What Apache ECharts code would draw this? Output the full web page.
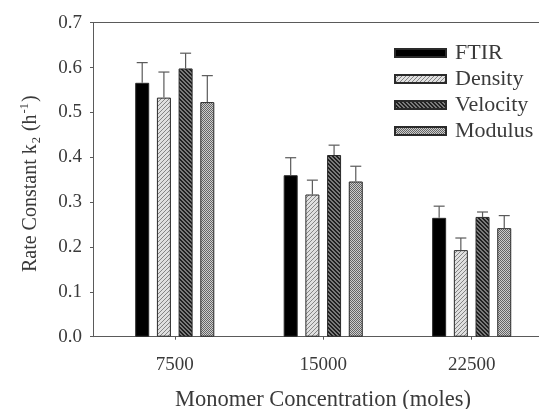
<!DOCTYPE html>
<html>
<head>
<meta charset="utf-8">
<script src="https://cdn.jsdelivr.net/npm/echarts@6/dist/echarts.min.js"></script>
<style>html,body{margin:0;padding:0;background:#fff;}#c{width:539px;height:409px;}</style>
</head>
<body>
<div id="c"></div>
<script>
// ---- data ----
const categories = [7500, 15000, 22500];
const seriesNames = ['FTIR', 'Density', 'Velocity', 'Modulus'];
const ftir = [0.566, 0.360, 0.265];
const ftirErr = [0.045, 0.039, 0.026];
const density = [0.533, 0.317, 0.193];
const densityErr = [0.057, 0.032, 0.027];
const velocity = [0.598, 0.405, 0.267];
const velocityErr = [0.034, 0.022, 0.011];
const modulus = [0.523, 0.346, 0.242];
const modulusErr = [0.059, 0.034, 0.028];
const yTickLabels = ['0.0', '0.1', '0.2', '0.3', '0.4', '0.5', '0.6', '0.7'];

// ---- styling helpers ----
function tile(size, bg, fg, pts) {
  const c = document.createElement('canvas');
  c.width = size; c.height = size;
  const g = c.getContext('2d');
  g.fillStyle = bg; g.fillRect(0, 0, size, size);
  g.fillStyle = fg;
  pts.forEach(p => g.fillRect(p[0], p[1], 1, 1));
  return c;
}
const fills = [
  '#000000',
  { image: tile(4, '#e0e0e0', '#858585', [[0,3],[1,2],[2,1],[3,0]]), repeat: 'repeat' },
  { image: tile(4, '#7a7a7a', '#202020', [[0,0],[1,1],[2,2],[3,3],[1,0],[2,1],[3,2],[0,3]]), repeat: 'repeat' },
  { image: tile(2, '#cdcdcd', '#656565', [[0,0],[1,1]]), repeat: 'repeat' }
];
const values = [ftir, density, velocity, modulus];
const errs = [ftirErr, densityErr, velocityErr, modulusErr];

const BAR_W = 14, BAR_GAP = 0.55;
const PITCH = BAR_W * (1 + BAR_GAP);
const FONT = '"Liberation Serif", "Times New Roman", serif';
const TXT = '#3a3a3a';
const AX = '#5a5a5a';

const barSeries = seriesNames.map((name, i) => ({
  name: name,
  type: 'bar',
  barWidth: BAR_W,
  barGap: (BAR_GAP * 100) + '%',
  data: categories.map((c, j) => [c, values[i][j]]),
  itemStyle: { color: fills[i], borderColor: '#2a2a2a', borderWidth: 1 },
  emphasis: { disabled: true }
}));

const errData = [];
seriesNames.forEach((n, i) => {
  categories.forEach((c, j) => {
    errData.push([c, values[i][j], values[i][j] + errs[i][j], i]);
  });
});

const errSeries = {
  type: 'custom',
  name: 'err',
  data: errData,
  z: 5,
  silent: true,
  encode: { x: 0, y: [1, 2] },
  renderItem: function (params, api) {
    const idx = api.value(3);
    const dx = (idx - 1.5) * PITCH;
    const base = api.coord([api.value(0), api.value(1)]);
    const top = api.coord([api.value(0), api.value(2)]);
    const x = base[0] + dx;
    const cap = 5.5;
    const style = { stroke: '#5a5a5a', lineWidth: 1.2 };
    return {
      type: 'group',
      children: [
        { type: 'line', shape: { x1: x, y1: base[1], x2: x, y2: top[1] }, style: style },
        { type: 'line', shape: { x1: x - cap, y1: top[1], x2: x + cap, y2: top[1] }, style: style }
      ]
    };
  }
};

const chart = echarts.init(document.getElementById('c'), null, { renderer: 'canvas' });
chart.setOption({
  animation: false,
  backgroundColor: '#ffffff',
  textStyle: { fontFamily: FONT },
  grid: { left: 93, right: 0, top: 22.7, bottom: 72.3, containLabel: false, outerBoundsMode: 'none' },
  legend: {
    orient: 'vertical',
    left: 389,
    top: 37,
    data: seriesNames,
    icon: 'rect',
    itemWidth: 51,
    itemHeight: 8,
    itemGap: 4,
    selectedMode: false,
    textStyle: { fontFamily: FONT, fontSize: 22, color: TXT, lineHeight: 22, padding: [0, 0, 0, 4] }
  },
  xAxis: [{
    type: 'value',
    min: 3370,
    max: 25900,
    position: 'bottom',
    splitLine: { show: false },
    axisLine: { show: true, lineStyle: { color: AX, width: 1 } },
    axisTick: { show: true, length: 3, lineStyle: { color: AX }, customValues: categories },
    axisLabel: {
      customValues: categories,
      formatter: v => String(v),
      fontFamily: FONT, fontSize: 19, color: TXT, margin: 19
    },
    name: 'Monomer Concentration (moles)',
    nameLocation: 'middle',
    nameGap: 52,
    nameTextStyle: { fontFamily: FONT, fontSize: 22.5, color: TXT, padding: [0, 0, 0, 14] }
  }, {
    type: 'value',
    min: 3370,
    max: 25900,
    position: 'top',
    splitLine: { show: false },
    axisLine: { show: true, onZero: false, lineStyle: { color: AX, width: 1 } },
    axisTick: { show: false },
    axisLabel: { show: false }
  }],
  yAxis: {
    type: 'value',
    min: 0,
    max: 0.7,
    interval: 0.1,
    splitLine: { show: false },
    axisLine: { show: true, lineStyle: { color: AX, width: 1 } },
    axisTick: { show: true, length: 3, inside: false, lineStyle: { color: AX } },
    axisLabel: {
      formatter: (v) => yTickLabels[Math.round(v * 10)],
      fontFamily: FONT, fontSize: 19, color: TXT, margin: 11
    },
    name: '{a|Rate Constant k}{sub|2}{a| (h}{sup|-1}{a|)}',
    nameLocation: 'middle',
    nameGap: 50,
    nameTextStyle: {
      fontFamily: FONT, fontSize: 20, color: TXT, padding: [0, 8, 0, 0],
      rich: {
        a: { fontFamily: FONT, fontSize: 20, color: TXT, verticalAlign: 'middle' },
        sub: { fontFamily: FONT, fontSize: 12.5, color: TXT, verticalAlign: 'middle', padding: [12, 1, 0, 1] },
        sup: { fontFamily: FONT, fontSize: 12.5, color: TXT, verticalAlign: 'middle', padding: [0, 1, 12, 1] }
      }
    }
  },
  series: barSeries.concat([errSeries])
});
</script>
</body>
</html>
